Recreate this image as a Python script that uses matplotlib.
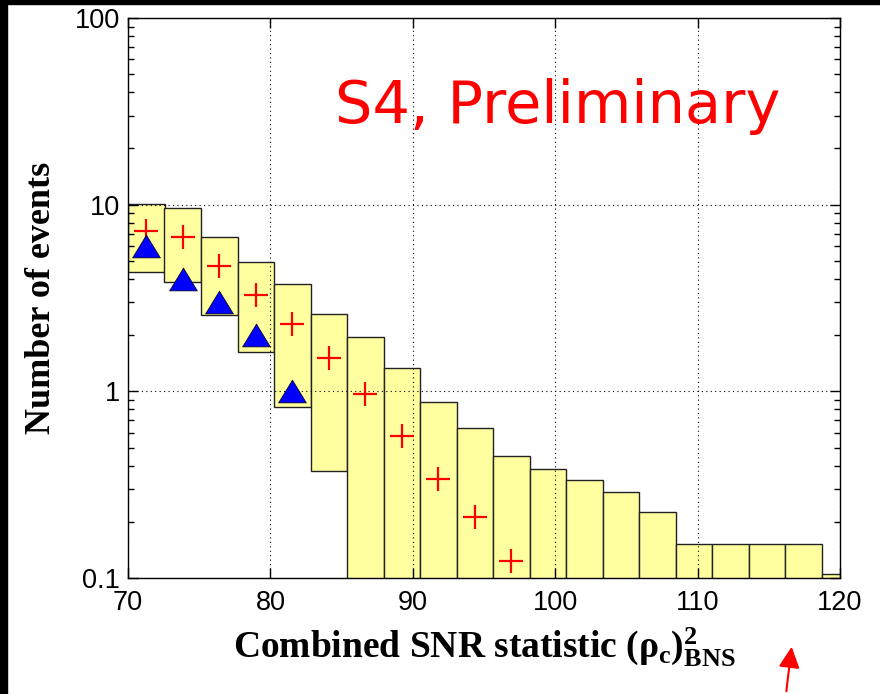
import matplotlib
matplotlib.use("Agg")
import matplotlib.pyplot as plt
from matplotlib.patches import Rectangle
import numpy as np

# lower edge of each SNR bin (all bins are the same width)
bin_lo = [70.00, 72.56, 75.13, 77.69, 80.26, 82.82, 85.38, 87.95, 90.51, 93.08,
          95.64, 98.21, 100.77, 103.33, 105.90, 108.46, 111.03, 113.59, 116.15, 118.72]
bin_width = 2.564
# expected background band per bin (0 means the band goes below the axis)
band_hi = [10.1, 9.56, 6.70, 4.93, 3.74, 2.58, 1.95, 1.33, 0.88, 0.64,
           0.45, 0.385, 0.335, 0.288, 0.226, 0.153, 0.153, 0.153, 0.153, 0.105]
band_lo = [4.34, 3.86, 2.55, 1.62, 0.82, 0.376, 0, 0, 0, 0,
           0, 0, 0, 0, 0, 0, 0, 0, 0, 0]
# mean background and observed (zero-lag) counts
background = [7.25, 6.73, 4.69, 3.28, 2.29, 1.50, 0.964, 0.578, 0.338, 0.211, 0.123]
observed = [6, 4, 3, 2, 1]

plt.rcParams["mathtext.fontset"] = "custom"
plt.rcParams["mathtext.rm"] = "Liberation Serif:bold"
plt.rcParams["mathtext.it"] = "Liberation Serif:bold"
plt.rcParams["mathtext.bf"] = "Liberation Serif:bold"

fig = plt.figure(figsize=(8.8, 6.94), dpi=100)
ax = fig.add_axes([128 / 880, 116 / 694, 712 / 880, 560 / 694])

lo = np.array(bin_lo)
centers = lo + bin_width / 2
hi = np.array(band_hi)
bottom = np.array(band_lo, dtype=float)
bottom = np.where(bottom > 0, bottom, 1e-3)
ax.bar(centers, hi - bottom, bottom=bottom, width=bin_width,
       color="#ffffa0", edgecolor="#222222", linewidth=1.0, zorder=1)

# slightly squat triangle
tri = [(-1, -0.82), (1, -0.82), (0, 0.82), (-1, -0.82)]
ax.plot(centers[:len(background)], background, "+", color="red",
        markersize=17, markeredgewidth=1.6, zorder=3)
ax.plot(centers[:len(observed)], observed, marker=tri, linestyle="none",
        color="blue", markeredgecolor="black", markeredgewidth=0.5,
        markersize=20, zorder=4)

ax.set_yscale("log")
ax.set_xlim(70, 120)
ax.set_ylim(0.1, 100)
ax.set_xticks([70, 80, 90, 100, 110, 120])
ax.set_xticklabels(["70", "80", "90", "100", "110", "120"])
ax.set_yticks([0.1, 1, 10, 100])
ax.set_yticklabels(["0.1", "1", "10", "100"])
ax.set_axisbelow(False)
ax.grid(True, which="major", color="black", linestyle=(0, (1, 3)),
        linewidth=0.8)
ax.tick_params(which="both", direction="in", top=True, right=True,
               labelsize=19.5, width=1.0)
ax.tick_params(which="major", length=7)
ax.tick_params(which="minor", length=4)
ax.tick_params(axis="x", pad=9)
ax.tick_params(axis="y", pad=6)
for lab in ax.get_xticklabels() + ax.get_yticklabels():
    lab.set_family("Liberation Sans")
for sp in ax.spines.values():
    sp.set_linewidth(1.0)

ax.set_xlabel(r"Combined SNR statistic $(\rho_{\mathrm{c}})^{2}_{\mathrm{BNS}}$",
              family="Liberation Serif", weight="bold", fontsize=27,
              labelpad=6)
ax.set_ylabel("Number of events", family="Liberation Serif",
              weight="bold", fontsize=26, labelpad=12)

ax.text(0.291, 0.8125, "S4, Preliminary", transform=ax.transAxes,
        color="red", fontsize=42.5, family="DejaVu Sans", va="baseline")

# red arrow under the axis
ax.annotate("", xy=(792 / 880, 50 / 694), xytext=(786 / 880, 0),
            xycoords="figure fraction", textcoords="figure fraction",
            arrowprops=dict(arrowstyle="-|>", color="red", lw=1.5,
                            mutation_scale=32),
            annotation_clip=False)

# dark frame along the left and top edges
fig.add_artist(Rectangle((0, 0), 7 / 880, 1, transform=fig.transFigure,
                         color="black", zorder=10))
fig.add_artist(Rectangle((0, 1 - 4 / 694), 1, 4 / 694,
                         transform=fig.transFigure, color="black", zorder=10))

fig.savefig("out.png", dpi=100)
